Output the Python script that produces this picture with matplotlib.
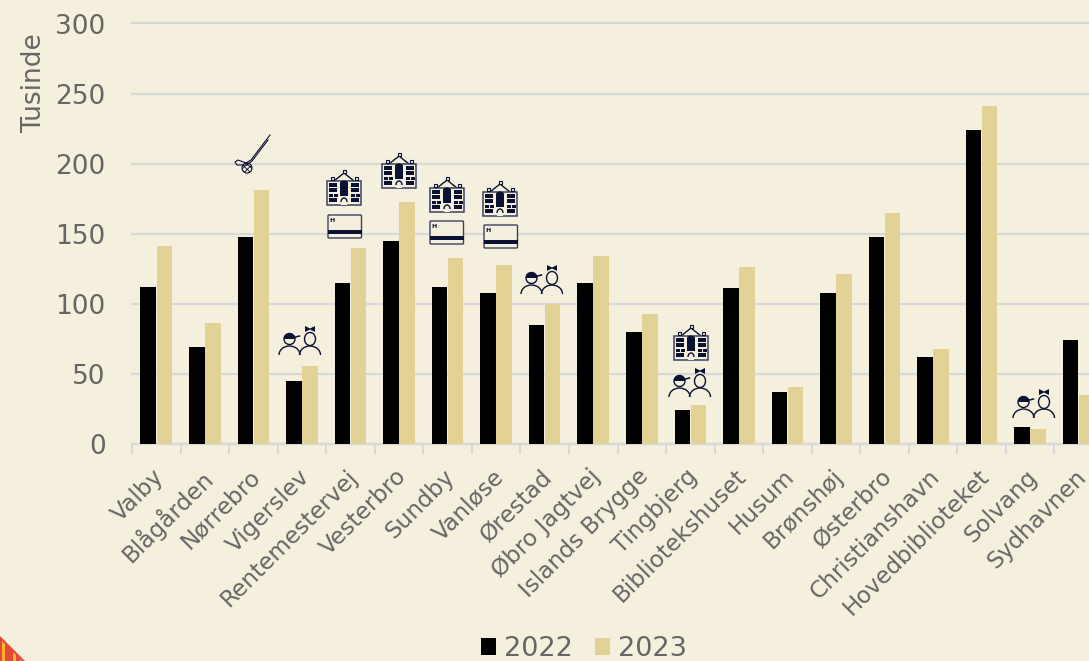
import matplotlib
matplotlib.use("Agg")
import matplotlib.pyplot as plt
import numpy as np
from matplotlib.patches import Arc, Circle, Ellipse, Polygon, Rectangle, FancyBboxPatch
from matplotlib.lines import Line2D

categories = ["Valby", "Blågården", "Nørrebro", "Vigerslev", "Rentemestervej", "Vesterbro",
              "Sundby", "Vanløse", "Ørestad", "Øbro Jagtvej", "Islands Brygge", "Tingbjerg",
              "Bibliotekshuset", "Husum", "Brønshøj", "Østerbro", "Christianshavn",
              "Hovedbiblioteket", "Solvang", "Sydhavnen"]
values_2022 = [112, 69, 148, 45, 115, 145, 112, 108, 85, 115, 80, 24, 111, 37, 108, 148, 62, 224, 12, 74]
values_2023 = [141, 86, 181, 56, 140, 173, 133, 128, 100, 134, 93, 28, 126, 41, 121, 165, 68, 241, 11, 35]
y_ticks = [0, 50, 100, 150, 200, 250, 300]

BG = "#f5f0dd"
TAN = "#e3d295"
NAVY = "#0a1133"
TEXT = "#666666"
GRID = "#d9d9d9"

plt.rcParams['font.family'] = ['DejaVu Sans']
plt.rcParams['hatch.linewidth'] = 0.6

W, H = 1089, 661
fig = plt.figure(figsize=(W / 100, H / 100), dpi=100, facecolor=BG)
ax = fig.add_axes([132 / W, (H - 444) / H, 971 / W, 420.5 / H], facecolor=BG)

x = np.arange(len(categories))
bar_w = 0.32
ax.bar(x - 0.165, values_2022, bar_w, color="black", label="2022", zorder=3)
ax.bar(x + 0.165, values_2023, bar_w, color=TAN, label="2023", zorder=3)

ax.set_xlim(-0.5, len(categories) - 0.5)
ax.set_ylim(0, 300)
ax.set_yticks(y_ticks)
ax.tick_params(axis="y", length=0, pad=19, labelsize=19, labelcolor=TEXT)
ax.yaxis.grid(True, color=GRID, lw=1.6, zorder=0, clip_on=False)
ax.set_axisbelow(True)
for side in ["top", "left", "right"]:
    ax.spines[side].set_visible(False)
ax.spines["bottom"].set_color(GRID)
ax.spines["bottom"].set_linewidth(1.6)

ax.set_xticks(x - 0.09)
ax.set_xticklabels(categories, rotation=45, ha="right", rotation_mode="anchor",
                   fontsize=16.7, color=TEXT)
ax.tick_params(axis="x", which="major", length=0, pad=15)
ax.set_xticks(np.arange(len(categories) + 1) - 0.5, minor=True)
ax.tick_params(axis="x", which="minor", length=7, width=1.5, color=GRID)

fig.text(34 / W, 1 - 83 / H, "Tusinde", rotation=90, ha="center", va="center",
         fontsize=19, color=TEXT)

handles, labels = ax.get_legend_handles_labels()
fig.legend(handles, labels, loc="center", bbox_to_anchor=(584 / W, 1 - 649 / H), ncol=2,
           frameon=False, fontsize=19.5, labelcolor=TEXT, handlelength=0.55, handleheight=0.55,
           handletextpad=0.3, columnspacing=0.8, borderpad=0)

# decoration layer in pixels
deco = fig.add_axes([0, 0, 1, 1], facecolor="none", zorder=5)
deco.set_xlim(0, W)
deco.set_ylim(H, 0)
deco.axis("off")


def building(cx, top):
    deco.add_patch(Polygon([[cx - 10, top + 12], [cx, top + 4], [cx + 10, top + 12]],
                           closed=False, fc=BG, ec=NAVY, lw=1.0))
    deco.add_patch(Rectangle((cx - 17, top + 12), 34, 23.5, fc=BG, ec="#3a4160", lw=1.1))
    for dx, dy in [(-12, 8), (0, 1), (12, 8)]:
        deco.add_patch(Rectangle((cx + dx - 1.5, top + dy), 3, 3, fc=BG, ec=NAVY, lw=0.8))
    deco.add_patch(Rectangle((cx - 4, top + 14), 8, 13, fc=NAVY, ec="none"))
    deco.add_patch(Ellipse((cx, top + 14), 8, 5, fc=NAVY, ec="none"))
    for side in (-1, 1):
        for dy, small in [(14, False), (19, False), (24, True), (29, False)]:
            if small:
                for off in (-2.5, 2.5):
                    deco.add_patch(Rectangle((cx + side * 11 + off - 2, top + dy + 0.5), 4, 3, fc=NAVY, ec="none"))
            else:
                deco.add_patch(Rectangle((cx + side * 11 - 4.3, top + dy), 8.6, 4, fc=NAVY, ec="none"))
    deco.add_patch(Rectangle((cx - 3, top + 32), 6, 3.5, fc=BG, ec="none"))
    deco.add_patch(Arc((cx, top + 33), 6, 8, theta1=180, theta2=360, ec=NAVY, lw=1.0))


def card(x0, y0):
    deco.add_patch(FancyBboxPatch((x0, y0), 33.5, 23, boxstyle="round,pad=0,rounding_size=1",
                                  fc=BG, ec="#3a4160", lw=1.0))
    deco.add_patch(Rectangle((x0, y0 + 15), 33.5, 4, fc=NAVY, ec="none"))
    deco.text(x0 + 4, y0 + 5, "H", fontsize=4.5, fontweight="bold", color=NAVY, ha="center", va="center")


def people(cx, top):
    lx, rx = cx - 10.5, cx + 10
    hy = top + 13
    deco.add_patch(Circle((lx, hy), 5.5, fc=BG, ec=NAVY, lw=1.0))
    deco.add_patch(Polygon([[lx - 5.5, hy], [lx - 5, hy - 3], [lx - 2, hy - 5.5], [lx + 2, hy - 5.5],
                            [lx + 5, hy - 3], [lx + 5.5, hy]], fc=NAVY, ec="none"))
    deco.add_line(Line2D([lx + 4, lx + 10], [hy - 1.5, hy - 3], color=NAVY, lw=1.1))
    deco.add_patch(Ellipse((rx, hy), 11, 13, fc=BG, ec=NAVY, lw=1.0))
    deco.add_patch(Polygon([[rx - 5, top], [rx, top + 2.5], [rx + 5, top], [rx + 5, top + 6],
                            [rx, top + 3.5], [rx - 5, top + 6]], fc=NAVY, ec="none"))
    for c in (lx, rx):
        deco.add_patch(Arc((c, top + 29), 21, 18, theta1=180, theta2=360, ec=NAVY, lw=1.0))


def stick():
    deco.add_line(Line2D([270, 251, 246], [135, 160, 163], color=NAVY, lw=0.8))
    deco.add_line(Line2D([268, 252, 248], [140, 161, 164], color=NAVY, lw=0.8))
    deco.add_line(Line2D([246, 238, 235, 237, 248], [163, 160, 162, 165, 165], color=NAVY, lw=0.8))
    deco.add_patch(Circle((247, 168), 5, fc=BG, ec=NAVY, lw=0.8, hatch="xxxxxx"))


stick()
for cx, top in [(344, 169), (399, 152), (447, 176), (500, 180), (691, 324)]:
    building(cx, top)
for x0, y0 in [(328, 215), (430, 221), (484, 225)]:
    card(x0, y0)
for cx, top in [(300, 326), (542, 265), (690, 368), (1034, 389)]:
    people(cx, top)

# corner of the page border
deco.add_patch(Polygon([[0, 636], [25, 661], [0, 661]], fc="#e8483a", ec="none"))
for sx in [2, 13, 20]:
    deco.add_patch(Polygon([[sx, 639 + sx], [sx + 3, 642 + sx], [sx + 3, 661], [sx, 661]], fc="#f6b62c", ec="none"))

fig.savefig("out.png", dpi=100, facecolor=BG)
